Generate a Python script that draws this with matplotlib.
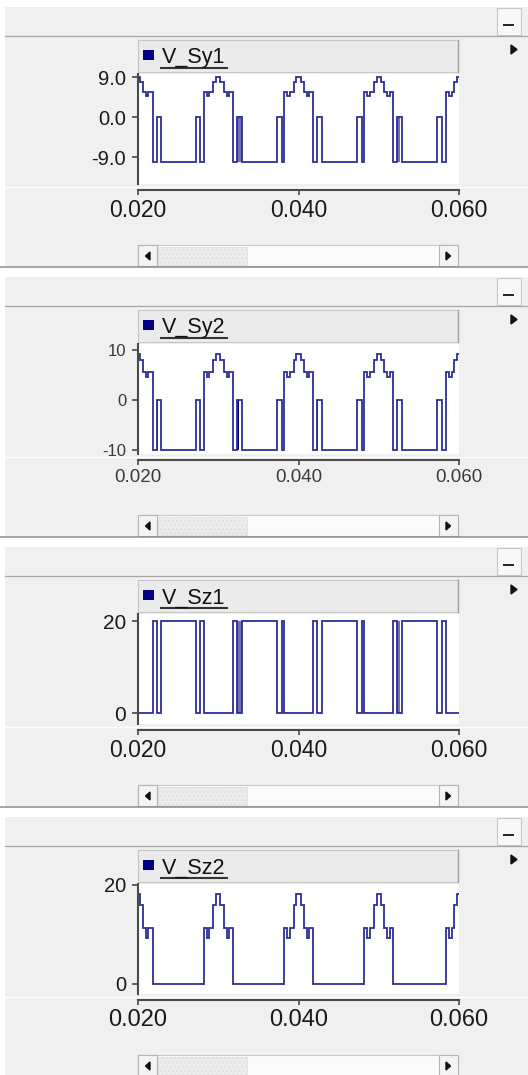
import numpy as np
import matplotlib
matplotlib.use('Agg')
import matplotlib.pyplot as plt
import matplotlib.patches as mpatches

plt.rcParams['font.family'] = ['Liberation Sans', 'DejaVu Sans']

W, H = 528, 1075

# switching instants shared by the four traces (ms)
switch_times_ms = [
    20.00, 20.28, 20.65, 20.95, 21.30, 21.82, 22.34, 22.90,
    27.20, 27.75, 28.22, 28.55, 28.88, 29.38, 29.72, 30.28, 30.70, 31.03, 31.36, 31.78, 32.30, 32.92,
    37.30, 37.92, 38.22, 38.55, 38.88, 39.38, 39.72, 40.28, 40.70, 41.03, 41.36, 41.78, 42.30, 42.92,
    47.30, 47.92, 48.22, 48.55, 48.88, 49.38, 49.72, 50.28, 50.70, 51.03, 51.36, 51.78, 52.30, 52.92,
    57.30, 57.92, 58.35, 58.76, 59.17, 59.38, 59.79,
]
t_end_ms = 60.0

sy1_levels = [
    9.1, 8.0, 5.8, 4.9, 5.8, -10, 0, -10,
    0, -10, 5.8, 4.9, 5.8, 8.0, 9.1, 8.0, 5.8, 4.9, 5.8, -10, 0, -10,
    0, -10, 5.8, 4.9, 5.8, 8.0, 9.1, 8.0, 5.8, 4.9, 5.8, -10, 0, -10,
    0, -10, 5.8, 4.9, 5.8, 8.0, 9.1, 8.0, 5.8, 4.9, 5.8, -10, 0, -10,
    0, -10, 5.8, 4.9, 5.8, 8.0, 9.1,
]
sy2_levels = [
    9.2, 8.0, 5.6, 4.6, 5.6, -10, 0, -10,
    0, -10, 5.6, 4.6, 5.6, 8.0, 9.2, 8.0, 5.6, 4.6, 5.6, -10, 0, -10,
    0, -10, 5.6, 4.6, 5.6, 8.0, 9.2, 8.0, 5.6, 4.6, 5.6, -10, 0, -10,
    0, -10, 5.6, 4.6, 5.6, 8.0, 9.2, 8.0, 5.6, 4.6, 5.6, -10, 0, -10,
    0, -10, 5.6, 4.6, 5.6, 8.0, 9.2,
]
sz1_levels = [
    0, 0, 0, 0, 0, 20, 0, 20,
    0, 20, 0, 0, 0, 0, 0, 0, 0, 0, 0, 20, 0, 20,
    0, 20, 0, 0, 0, 0, 0, 0, 0, 0, 0, 20, 0, 20,
    0, 20, 0, 0, 0, 0, 0, 0, 0, 0, 0, 20, 0, 20,
    0, 20, 0, 0, 0, 0, 0,
]
sz2_levels = [
    18.2, 15.9, 11.2, 9.2, 11.2, 0, 0, 0,
    0, 0, 11.2, 9.2, 11.2, 15.9, 18.2, 15.9, 11.2, 9.2, 11.2, 0, 0, 0,
    0, 0, 11.2, 9.2, 11.2, 15.9, 18.2, 15.9, 11.2, 9.2, 11.2, 0, 0, 0,
    0, 0, 11.2, 9.2, 11.2, 15.9, 18.2, 15.9, 11.2, 9.2, 11.2, 0, 0, 0,
    0, 0, 11.2, 9.2, 11.2, 15.9, 18.2,
]

# windows of fast switching that show up as filled blocks (ms)
sy1_bursts = [(32.30, 32.92), (52.30, 52.60)]
sy2_bursts = [(22.34, 22.52), (32.36, 32.58), (42.30, 42.48)]
sz1_bursts = [(32.30, 32.92), (52.30, 52.60)]

x_ticks = [0.020, 0.040, 0.060]
x_tick_labels = ['0.020', '0.040', '0.060']

fig = plt.figure(figsize=(W / 100, H / 100), dpi=100)
fig.patch.set_facecolor('white')

bg = fig.add_axes([0, 0, 1, 1])
bg.set_xlim(0, W)
bg.set_ylim(H, 0)
bg.axis('off')


def rect(x0, y0, x1, y1, **kw):
    bg.add_patch(mpatches.Rectangle((x0, y0), x1 - x0, y1 - y0, **kw))


def px_box(x0, y0, x1, y1):
    return [x0 / W, 1 - y1 / H, (x1 - x0) / W, (y1 - y0) / H]


def draw_panel(y0, name, levels, yticks, yticklabels, ylim, bursts, burst_lo, burst_hi,
               burst_color, ysize, xsize, tcolor):
    # window chrome
    rect(5, y0 + 7, W, y0 + 266, facecolor='#f0f0f0', edgecolor='none')
    bg.plot([5, W], [y0 + 35.5, y0 + 35.5], color='#a8a8a8', lw=0.9)
    bg.plot([5, W], [y0 + 187, y0 + 187], color='white', lw=1.0)
    bg.plot([0, W], [y0 + 267, y0 + 267], color='#8c8c8c', lw=1.1)
    rect(497, y0 + 8, 521, y0 + 35, facecolor='#f8f8f8', edgecolor='#c8c8c8', lw=0.8)
    bg.plot([504, 513], [y0 + 25, y0 + 25], color='#222222', lw=1.4)
    bg.add_patch(mpatches.Polygon([[511, y0 + 45], [511, y0 + 54], [517, y0 + 49.5]],
                                  closed=True, color='#111111'))

    # legend header
    rect(138, y0 + 40, 458, y0 + 72, facecolor='#ebebeb', edgecolor='#c6c6c6', lw=0.8)
    bg.plot([458, 458], [y0 + 40, y0 + 72], color='#a0a0a0', lw=1.0)
    rect(143, y0 + 50, 154, y0 + 60, facecolor='#000080', edgecolor='none')
    bg.text(162, y0 + 63.5, name, fontsize=15.5, color='#111111', va='baseline', ha='left')
    bg.plot([161, 227], [y0 + 67.5, y0 + 67.5], color='#333333', lw=1.5)

    # scrollbar
    rect(138, y0 + 245, 458, y0 + 266, facecolor='#fbfbfb', edgecolor='#c8c8c8', lw=0.8)
    rect(158, y0 + 247, 247, y0 + 265, facecolor='#ececec', edgecolor='#e0e0e0', lw=0.6,
         hatch='....')
    rect(138, y0 + 245, 157, y0 + 266, facecolor='#f4f4f4', edgecolor='#b4b4b4', lw=0.8)
    rect(439, y0 + 245, 458, y0 + 266, facecolor='#f4f4f4', edgecolor='#b4b4b4', lw=0.8)
    bg.add_patch(mpatches.Polygon([[150, y0 + 252], [150, y0 + 260], [145.5, y0 + 256]],
                                  closed=True, color='#111111'))
    bg.add_patch(mpatches.Polygon([[446, y0 + 252], [446, y0 + 260], [450.5, y0 + 256]],
                                  closed=True, color='#111111'))

    # the trace
    ax = fig.add_axes(px_box(138, y0 + 74, 459, y0 + 184))
    ax.set_zorder(2)
    ax.set_facecolor('white')
    t = np.array(switch_times_ms + [t_end_ms]) / 1000.0
    v = list(levels) + [levels[-1]]
    ax.step(t, v, where='post', color='#2e2e98', lw=1.3, solid_joinstyle='miter')
    for a, b in bursts:
        ax.fill_between([a / 1000.0, b / 1000.0], burst_lo, burst_hi,
                        color=burst_color, lw=0)
    ax.set_xlim(0.020, 0.060)
    ax.set_ylim(*ylim)
    ax.set_yticks(yticks)
    ax.set_yticklabels(yticklabels)
    ax.set_xticks(x_ticks)
    ax.set_xticklabels(x_tick_labels)
    for s in ['top', 'right']:
        ax.spines[s].set_visible(False)
    ax.spines['left'].set_color('#4a4a4a')
    ax.spines['left'].set_linewidth(1.5)
    ax.spines['bottom'].set_color('#4a4a4a')
    ax.spines['bottom'].set_linewidth(1.5)
    ax.spines['bottom'].set_position(('outward', 4.3))
    ax.tick_params(axis='y', direction='out', length=4.5, width=1.2, color='#4a4a4a',
                   pad=4, labelsize=ysize, labelcolor=tcolor)
    ax.tick_params(axis='x', direction='out', length=3.5, width=1.2, color='#4a4a4a',
                   pad=3, labelsize=xsize, labelcolor=tcolor)
    return ax


draw_panel(0, 'V_Sy1', sy1_levels, [9, 0, -9], ['9.0', '0.0', '-9.0'], (-15.0, 9.74),
           sy1_bursts, -10, 0, '#6f6fb6', 14.5, 16.5, '#1a1a1a')
draw_panel(270, 'V_Sy2', sy2_levels, [10, 0, -10], ['10', '0', '-10'], (-10.8, 11.2),
           sy2_bursts, -10, 0, '#00006e', 12, 13.5, '#3a3a3a')
draw_panel(540, 'V_Sz1', sz1_levels, [20, 0], ['20', '0'], (-2.32, 21.52),
           sz1_bursts, 0, 20, '#6f6fb6', 15, 16.5, '#1a1a1a')
draw_panel(810, 'V_Sz2', sz2_levels, [20, 0], ['20', '0'], (-2.08, 20.14),
           [], 0, 0, '#6f6fb6', 14.5, 17, '#1a1a1a')

fig.savefig('out.png', dpi=100)
